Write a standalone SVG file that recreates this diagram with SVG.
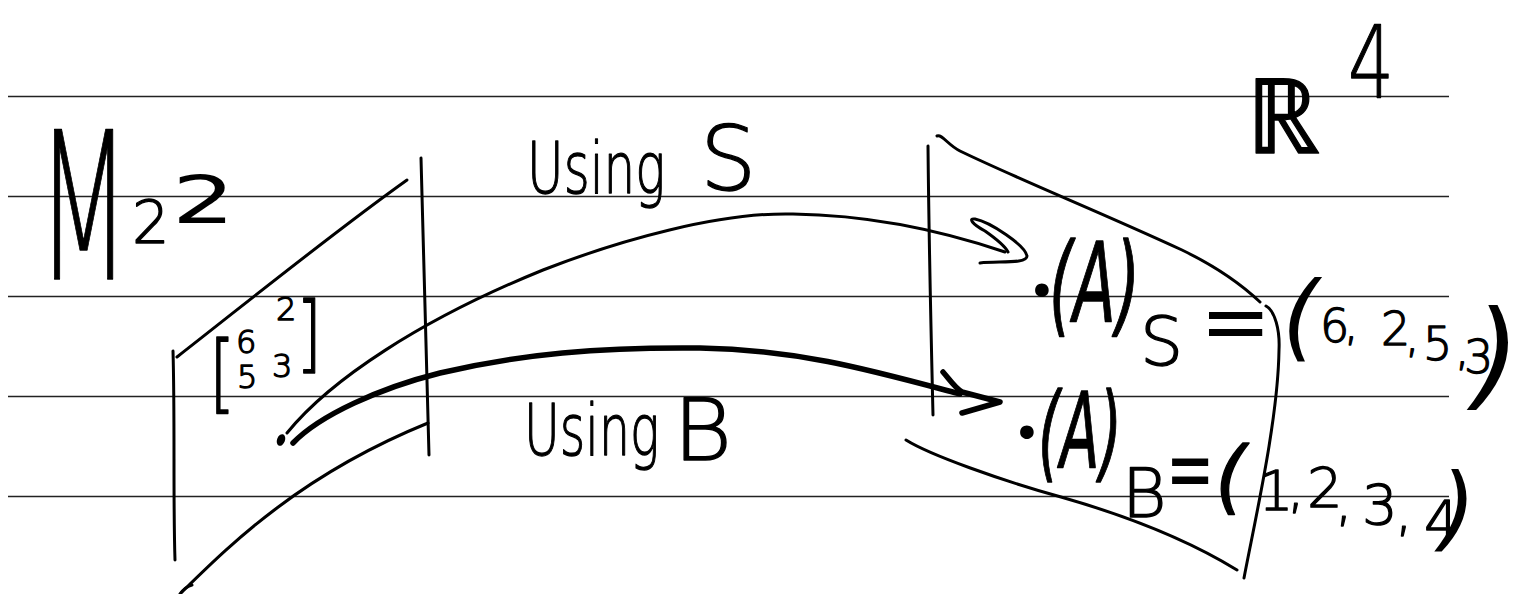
<svg xmlns="http://www.w3.org/2000/svg" width="1532" height="594" viewBox="0 0 1532 594">
  <style>
    .rule { stroke: #222; stroke-width: 1.4; }
    .ink { fill: none; stroke: #000; stroke-width: 3; stroke-linecap: round; stroke-linejoin: round; }
    .ink-thick { fill: none; stroke: #000; stroke-width: 5.5; stroke-linecap: round; stroke-linejoin: round; }
    text { font-family: "DejaVu Sans", "Liberation Sans", sans-serif; fill: #000; }
    .hw { font-weight: 200; stroke: #000; stroke-width: 1.3; stroke-linejoin: round; }
    .hwr { font-weight: 400; }
    .sl { font-style: italic; }
    .dot { font-family: Lato, "DejaVu Sans", sans-serif; font-weight: 700; }
  </style>

  <rect width="1532" height="594" fill="#fff"/>

  <!-- notebook ruling -->
  <g id="rules">
    <line class="rule" x1="8" y1="96.5" x2="1449" y2="96.5"/>
    <line class="rule" x1="8" y1="196.5" x2="1449" y2="196.5"/>
    <line class="rule" x1="8" y1="296.5" x2="1449" y2="296.5"/>
    <line class="rule" x1="8" y1="396.5" x2="1449" y2="396.5"/>
    <line class="rule" x1="8" y1="496.5" x2="1449" y2="496.5"/>
  </g>

  <!-- the space M22, drawn as a slanted sheet -->
  <g id="space-m22">
    <text class="hw" transform="translate(37,279) scale(0.527,1)" font-size="205">M</text>
    <text class="hw" x="132" y="243" font-size="59">2</text>
    <text class="hwr" transform="translate(172,223) scale(1.5,1)" font-size="66">2</text>

    <path class="ink" d="M173,351 C175,420 173,500 175,560"/>
    <path class="ink" d="M177,357 C250,300 330,235 407,180"/>
    <path class="ink" d="M421,158 C424,250 427,350 429,455"/>
    <path class="ink" d="M182,592 C230,545 300,475 428,423"/>
    <path class="ink" d="M180,594 C183,590 188,586 192,585"/>
  </g>

  <!-- the matrix A as an element of M22 -->
  <g id="matrix-a">
    <text class="hw" transform="translate(209,402) scale(0.8,1)" font-size="85">[</text>
    <text class="hw" font-size="32" x="236 276 237 272" y="353 320 388 377">6253</text>
    <text class="hw" transform="translate(296,362) scale(0.8,1)" font-size="84">]</text>
    <ellipse cx="281" cy="440" rx="4" ry="6" transform="rotate(20 281 440)" fill="#000"/>
  </g>

  <!-- the space R^4 -->
  <g id="space-r4">
    <text class="hw" x="1246" y="153" font-size="104" textLength="74" lengthAdjust="spacingAndGlyphs">ℝ</text>
    <text class="hw" x="1348" y="97" font-size="100" textLength="46" lengthAdjust="spacingAndGlyphs">4</text>

    <path class="ink" d="M928,146 C929,250 931,330 933,415"/>
    <path class="ink" d="M937,136 C942,134 948,145 960,151 C1020,180 1100,212 1182,250 C1215,266 1240,283 1260,302"/>
    <path class="ink" d="M1266,306 C1275,311 1280,330 1279,350 C1278,420 1255,520 1244,578"/>
    <path class="ink" d="M906,440 C930,455 1000,480 1061,497 C1110,511 1180,535 1237,570"/>
  </g>

  <!-- coordinate vector relative to S -->
  <g id="coords-s">
    <text class="dot" x="1032" y="312" font-size="72">·</text>
    <text class="hw sl" transform="translate(1049,322) scale(0.565,1)" font-size="110">(A)</text>
    <text class="hw" x="1140" y="365" font-size="68">S</text>
    <text class="hwr" x="1200" y="351" font-size="85">=</text>
    <text class="hwr sl" x="1282" y="349" font-size="94">(</text>
    <text class="hw" font-size="46" x="1320 1344 1381 1405 1423 1455 1464" y="342 340 345 352 360 365 373">6,2,5,3</text>
    <text class="hwr sl" x="1474" y="395" font-size="118">)</text>
  </g>

  <!-- coordinate vector relative to B -->
  <g id="coords-b">
    <text class="dot" x="1017" y="454" font-size="72">·</text>
    <text class="hw sl" transform="translate(1038,468) scale(0.545,1)" font-size="105">(A)</text>
    <text class="hw" x="1122" y="517" font-size="68">B</text>
    <text class="hwr" transform="translate(1166,500) scale(0.64,1)" font-size="90">=</text>
    <text class="hw sl" x="1215" y="504" font-size="80">(</text>
    <text class="hw" font-size="56" x="1258 1287 1307 1335 1362 1395 1424" y="510 507 507 520 524 530 540">1,2,3,4</text>
    <text class="hwr sl" x="1440" y="540" font-size="92">)</text>
  </g>

  <!-- mappings from M22 into R^4 -->
  <g id="connectors">
    <path class="ink" d="M287,433 C330,380 420,320 543,270 C620,240 720,212 793,214 C870,215 940,230 1005,252"/>
    <path class="ink" d="M980,263 C1000,261 1027,264 1027,256 C1025,245 990,222 975,219 C968,218 972,224 985,231 C995,238 1005,246 1008,252"/>
    <path class="ink-thick" d="M293,443 C320,415 380,388 440,373 C520,354 600,347 700,348 C800,350 870,370 960,394"/>
    <path class="ink-thick" d="M943,372 C950,380 955,388 962,392 L1000,402 L962,413"/>
  </g>

  <g id="label-using-s">
    <text class="hw" transform="translate(527,193) scale(0.695,1)" font-size="72">Using</text>
    <text class="hw" x="700" y="190" font-size="89">S</text>
  </g>

  <g id="label-using-b">
    <text class="hw" transform="translate(524,455) scale(0.68,1)" font-size="72">Using</text>
    <text class="hw" transform="translate(673,460) scale(1.05,1)" font-size="86">B</text>
  </g>
</svg>
